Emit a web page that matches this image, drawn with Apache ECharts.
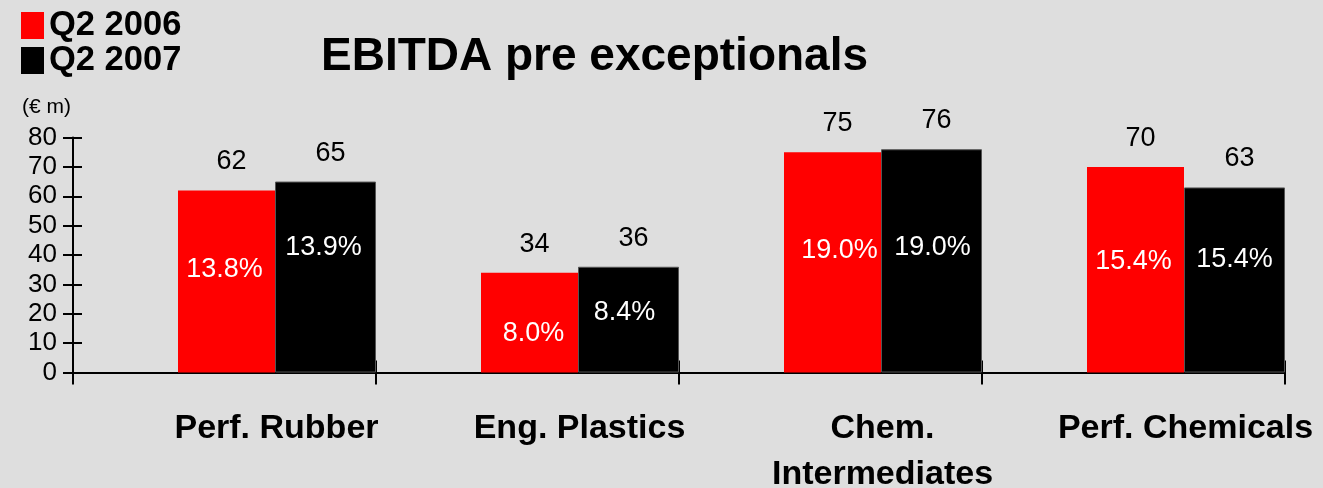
<!DOCTYPE html>
<html>
<head>
<meta charset="utf-8">
<title>EBITDA pre exceptionals</title>
<script src="https://cdn.jsdelivr.net/npm/echarts@6/dist/echarts.min.js"></script>
<style>
  html, body { margin: 0; padding: 0; background: #dedede; }
  #chart { width: 1323px; height: 488px; }
</style>
</head>
<body>
<div id="chart"></div>
<script>
// EBITDA pre exceptionals by segment, € millions
const categories = ['Perf. Rubber', 'Eng. Plastics', 'Chem.\nIntermediates', 'Perf. Chemicals'];
const ebitda2006 = [62, 34, 75, 70];
const ebitda2007 = [65, 36, 76, 63];
// EBITDA margin shown inside each bar
const margin2006 = ['13.8%', '8.0%', '19.0%', '15.4%'];
const margin2007 = ['13.9%', '8.4%', '19.0%', '15.4%'];
const yTicks = { min: 0, max: 80, interval: 10 };

// where each margin label sits: [x shift from bar centre, drop below bar top] in px
const marginLabelPos2006 = [[-2, 79], [4, 61], [7, 98], [-2, 95]];
const marginLabelPos2007 = [[-2, 66], [-4, 46], [1, 98], [0, 72]];

const FONT = '"Liberation Sans", Arial, sans-serif';
const RED = '#ff0000';
const BLACK = '#000000';

function valueSeries(name, values, color, stack, width, border) {
  return {
    name: name,
    type: 'bar',
    stack: stack,
    barWidth: width,
    barGap: '0%',
    barCategoryGap: '0%',
    data: values,
    itemStyle: border
      ? { color: color, borderColor: '#555555', borderWidth: 1 }
      : { color: color },
    label: {
      show: true,
      position: 'top',
      distance: 15,
      offset: [5, 0],
      color: '#000',
      fontFamily: FONT,
      fontSize: 27
    },
    z: 2
  };
}

// zero-height bar stacked on top of each value bar, carrying the margin label
function marginSeries(name, texts, posList, stack, width) {
  return {
    name: name,
    type: 'bar',
    stack: stack,
    barWidth: width,
    barGap: '0%',
    barCategoryGap: '0%',
    silent: true,
    itemStyle: { color: 'rgba(0,0,0,0)' },
    data: texts.map((t, i) => ({
      value: 0,
      label: {
        show: true,
        position: ['50%', posList[i][1]],
        offset: [posList[i][0], 0],
        align: 'center',
        verticalAlign: 'middle',
        formatter: () => t,
        color: '#ffffff',
        fontFamily: FONT,
        fontSize: 27
      }
    })),
    z: 3
  };
}

const chart = echarts.init(document.getElementById('chart'), null, { renderer: 'canvas' });

chart.setOption({
  backgroundColor: '#dedede',
  animation: false,
  title: [
    {
      text: 'EBITDA pre exceptionals',
      left: 321,
      top: 34,
      padding: 0,
      textStyle: { fontFamily: FONT, fontSize: 46, fontWeight: 'bold', color: '#000' }
    },
    {
      text: '(€ m)',
      left: 22,
      top: 97,
      padding: 0,
      textStyle: { fontFamily: FONT, fontSize: 21, fontWeight: 'normal', color: '#000' }
    }
  ],
  legend: {
    data: ['Q2 2006', 'Q2 2007'],
    orient: 'vertical',
    left: 21,
    top: 8,
    padding: 0,
    itemGap: 0,
    itemWidth: 23,
    itemHeight: 27,
    icon: 'rect',
    selectedMode: false,
    itemStyle: { borderWidth: 0 },
    textStyle: { fontFamily: FONT, fontSize: 34.5, fontWeight: 'bold', color: '#000' }
  },
  grid: {
    left: 73, right: 38, top: 137.5, bottom: 115.5,
    containLabel: false,
    outerBoundsMode: 'none'
  },
  xAxis: [
    {
      type: 'category',
      data: categories,
      position: 'bottom',
      axisLine: { show: true, lineStyle: { color: '#000', width: 2 } },
      axisTick: { show: true, inside: false, length: 12, lineStyle: { color: '#000', width: 2 } },
      axisLabel: {
        show: true,
        interval: 0,
        margin: 33,
        padding: [0, 0, 0, 104],
        lineHeight: 46,
        color: '#000',
        fontFamily: FONT,
        fontSize: 34,
        fontWeight: 'bold'
      },
      splitLine: { show: false }
    },
    {
      type: 'category',
      data: categories,
      position: 'bottom',
      axisLine: { show: false },
      axisTick: { show: true, inside: true, length: 12, lineStyle: { color: '#000', width: 2 } },
      axisLabel: { show: false },
      splitLine: { show: false }
    }
  ],
  yAxis: [
    {
      type: 'value',
      position: 'left',
      min: yTicks.min,
      max: yTicks.max,
      interval: yTicks.interval,
      axisLine: { show: true, lineStyle: { color: '#000', width: 2 } },
      axisTick: { show: true, inside: false, length: 10, lineStyle: { color: '#000', width: 2 } },
      axisLabel: { margin: 16, color: '#000', fontFamily: FONT, fontSize: 26 },
      splitLine: { show: false }
    },
    {
      type: 'value',
      position: 'left',
      min: yTicks.min,
      max: yTicks.max,
      interval: yTicks.interval,
      axisLine: { show: false },
      axisTick: { show: true, inside: true, length: 9, lineStyle: { color: '#000', width: 2 } },
      axisLabel: { show: false },
      splitLine: { show: false }
    }
  ],
  series: [
    // empty slot on the left of each category
    { name: 'gap', type: 'bar', barWidth: 105, barGap: '0%', barCategoryGap: '0%', data: [] },
    valueSeries('Q2 2006', ebitda2006, RED, 's2006', 97, false),
    marginSeries('margin 2006', margin2006, marginLabelPos2006, 's2006', 97),
    valueSeries('Q2 2007', ebitda2007, BLACK, 's2007', 101, true),
    marginSeries('margin 2007', margin2007, marginLabelPos2007, 's2007', 101)
  ]
});
</script>
</body>
</html>
